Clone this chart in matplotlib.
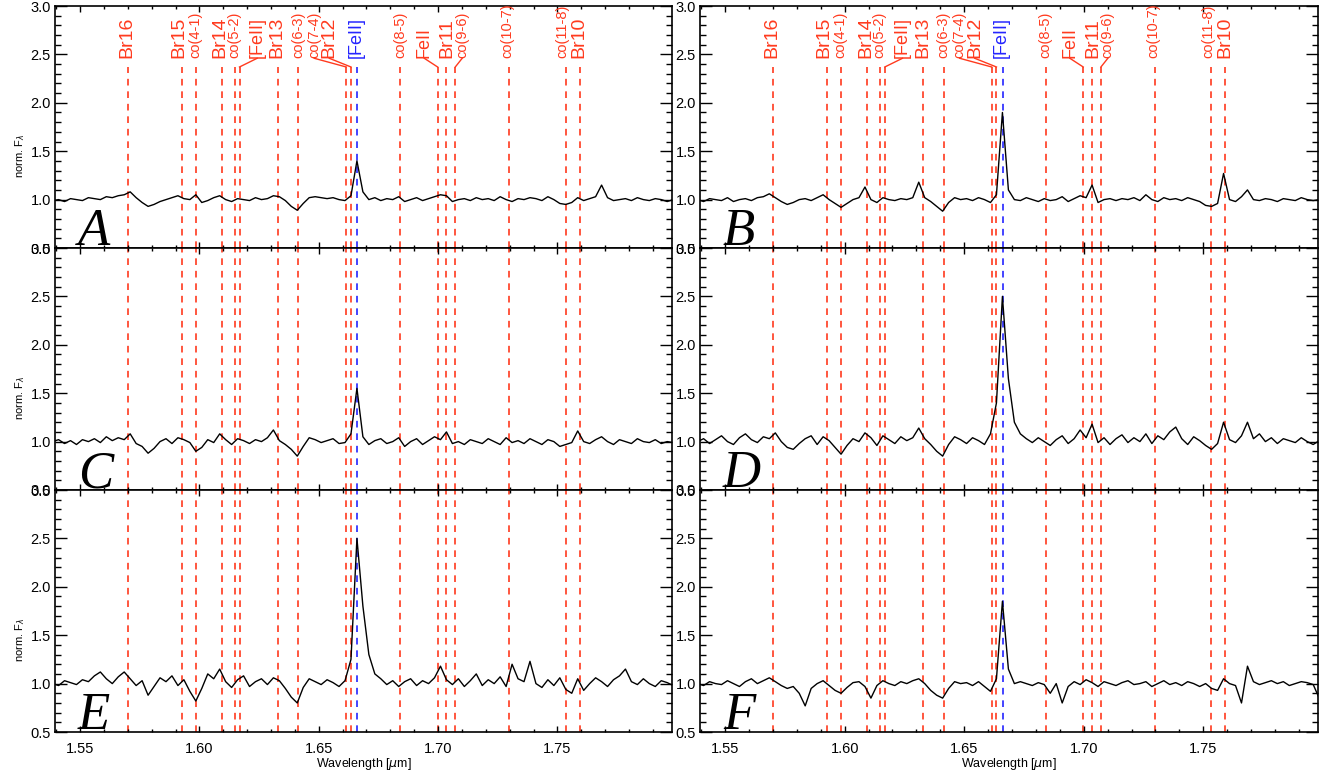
import numpy as np
import matplotlib
matplotlib.use("Agg")
from matplotlib import pyplot as plt
from matplotlib.ticker import MultipleLocator, FormatStrFormatter

plt.rcParams["font.family"] = ["Liberation Sans", "DejaVu Sans"]

# wavelength sampling of the spectra (micron)
wl_start = 1.5385
wl_step = 0.0025

spec_A = [
    0.99, 1.00, 0.98, 1.01, 1.00, 0.99, 1.02, 1.01, 1.00, 1.03,
    1.02, 1.04, 1.05, 1.08, 1.02, 0.97, 0.93, 0.95, 0.98, 1.00,
    1.02, 1.04, 1.01, 1.00, 1.05, 0.97, 0.99, 1.02, 1.04, 1.00,
    0.98, 1.01, 1.00, 0.99, 1.02, 1.00, 1.01, 1.04, 1.03, 0.99,
    0.93, 0.89, 0.96, 1.02, 1.03, 1.02, 1.01, 1.02, 1.00, 0.99,
    1.04, 1.40, 1.08, 1.00, 1.02, 0.99, 1.01, 1.00, 1.03, 0.98,
    1.00, 1.02, 0.99, 1.01, 1.03, 1.05, 1.04, 0.98, 1.00, 1.01,
    0.99, 1.02, 1.00, 1.01, 0.99, 1.03, 1.00, 0.98, 1.01, 1.00,
    1.02, 1.01, 0.99, 1.03, 1.00, 0.96, 0.95, 0.97, 1.02, 0.99,
    1.01, 1.03, 1.15, 1.02, 0.99, 1.00, 1.01, 0.99, 1.02, 1.00,
    0.99, 1.01, 1.00, 0.98, 1.00,
]
spec_B = [
    1.00, 0.98, 1.01, 1.00, 0.99, 1.02, 0.98, 1.00, 1.01, 0.99,
    1.02, 1.03, 1.06, 1.02, 0.98, 0.95, 0.97, 1.00, 1.01, 0.99,
    1.02, 1.05, 1.00, 0.96, 0.92, 0.96, 1.00, 1.02, 1.13, 1.00,
    0.97, 1.02, 1.00, 0.99, 1.01, 1.00, 1.02, 1.18, 1.02, 0.98,
    0.93, 0.88, 0.97, 1.02, 1.00, 1.01, 0.99, 1.02, 1.00, 0.97,
    1.05, 1.90, 1.10, 1.00, 0.99, 1.02, 1.00, 0.98, 1.01, 0.99,
    1.00, 1.03, 0.98, 1.01, 1.04, 1.02, 1.15, 0.97, 1.00, 1.01,
    0.99, 1.01, 1.00, 1.02, 0.99, 1.05, 1.00, 0.98, 1.02, 1.00,
    1.01, 0.99, 1.02, 1.00, 0.98, 0.94, 0.93, 0.96, 1.27, 1.00,
    0.98, 1.03, 1.10, 1.00, 0.99, 1.01, 1.00, 0.98, 1.01, 1.00,
    0.99, 1.02, 1.00, 0.99, 1.00,
]
spec_C = [
    1.00, 1.02, 0.98, 1.01, 0.97, 1.02, 1.00, 1.03, 0.99, 1.05,
    1.01, 1.04, 1.02, 1.08, 0.98, 0.95, 0.88, 0.93, 1.00, 1.03,
    0.98, 1.04, 1.02, 0.99, 0.90, 0.94, 1.02, 0.99, 1.08, 1.02,
    0.97, 1.03, 1.01, 0.98, 1.02, 1.00, 1.04, 1.12, 1.01, 0.97,
    0.92, 0.85, 0.95, 1.04, 1.02, 0.99, 1.01, 1.03, 0.98, 0.99,
    1.08, 1.55, 1.05, 0.97, 1.01, 1.03, 0.98, 1.00, 1.04, 0.95,
    1.00, 1.03, 0.97, 1.01, 1.05, 1.02, 1.10, 0.98, 1.00, 0.97,
    1.02, 1.00, 0.98, 1.03, 1.00, 0.97, 1.04, 0.99, 1.01, 0.98,
    1.03, 1.00, 0.97, 1.02, 1.00, 0.95, 0.97, 0.99, 1.11, 1.00,
    0.98, 1.02, 1.05, 1.00, 0.97, 1.02, 1.00, 0.98, 1.03, 1.00,
    0.99, 1.02, 0.98, 1.00, 0.99,
]
spec_D = [
    1.00, 1.03, 0.98, 1.02, 1.06, 1.00, 0.97, 1.04, 1.08, 1.02,
    0.99, 1.05, 1.03, 1.09, 1.00, 0.94, 0.92, 0.98, 1.03, 1.06,
    0.97, 1.05, 1.01, 0.94, 0.87, 0.96, 1.03, 1.00, 1.09, 1.04,
    0.96, 1.06, 1.02, 0.98, 1.05, 1.01, 1.04, 1.14, 1.03, 0.97,
    0.90, 0.85, 0.97, 1.05, 1.02, 0.98, 1.04, 1.01, 0.97, 1.08,
    1.40, 2.50, 1.65, 1.20, 1.08, 1.03, 0.99, 1.04, 1.00, 0.96,
    1.02, 1.06, 0.98, 1.03, 1.12, 1.04, 1.18, 0.99, 1.04, 0.97,
    1.03, 1.07, 0.99, 1.04, 1.00, 1.08, 0.98, 1.06, 1.02, 1.10,
    1.15, 1.03, 0.97, 1.05, 1.01, 0.96, 0.92, 0.98, 1.20, 1.02,
    0.99, 1.06, 1.20, 1.03, 1.08, 1.00, 1.04, 0.98, 1.03, 1.01,
    0.99, 1.04, 1.00, 0.97, 1.01,
]
spec_E = [
    1.00, 0.98, 1.03, 1.01, 0.99, 1.04, 1.02, 1.08, 1.12, 1.05,
    1.00, 1.07, 1.12, 1.05, 0.98, 1.03, 0.88, 0.97, 1.06, 1.02,
    1.08, 0.98, 1.04, 0.92, 0.82, 0.95, 1.10, 1.05, 1.15, 1.02,
    0.96, 1.04, 1.08, 0.97, 1.02, 1.05, 0.99, 1.06, 1.03, 0.95,
    0.86, 0.80, 0.96, 1.05, 1.02, 0.99, 1.04, 1.01, 0.97, 1.03,
    1.25, 2.50, 1.80, 1.30, 1.10, 1.05, 0.99, 1.03, 0.97, 1.02,
    1.05, 0.98, 1.03, 1.00, 1.06, 1.18, 1.04, 0.99, 1.05, 0.97,
    1.03, 1.10, 0.98, 1.04, 1.00, 1.07, 0.97, 1.20, 1.05, 1.02,
    1.23, 1.00, 0.96, 1.04, 0.98, 1.06, 0.94, 0.90, 1.05, 0.93,
    1.00, 1.06, 1.02, 0.97, 1.04, 1.08, 1.15, 1.02, 0.99, 1.05,
    1.00, 0.97, 1.03, 1.01, 0.98,
]
spec_F = [
    1.00, 0.98, 1.02, 1.00, 0.99, 1.03, 1.00, 0.97, 1.02, 1.05,
    1.00, 1.03, 1.06, 1.02, 0.98, 0.95, 0.97, 0.90, 0.77, 0.95,
    1.00, 1.03, 0.98, 0.93, 0.90, 0.96, 1.01, 1.02, 0.97, 0.85,
    0.98, 1.03, 1.00, 0.98, 1.02, 1.00, 1.03, 1.05, 1.00, 0.93,
    0.88, 0.85, 0.95, 1.02, 1.00, 1.01, 0.98, 1.02, 0.97, 0.92,
    1.05, 1.85, 1.15, 1.00, 1.02, 1.00, 0.98, 1.01, 0.99, 0.90,
    1.00, 0.80, 0.97, 1.02, 0.99, 1.04, 1.01, 0.97, 1.02, 1.00,
    0.98, 1.01, 1.03, 0.99, 1.00, 1.02, 0.97, 1.00, 1.03, 0.99,
    1.01, 0.98, 1.02, 1.00, 0.97, 1.00, 0.95, 0.93, 1.05, 1.00,
    0.98, 0.80, 1.18, 1.02, 0.99, 1.01, 1.03, 1.00, 1.02, 0.98,
    1.00, 1.02, 1.01, 0.99, 0.85,
]

panel_names = ["A", "B", "C", "D", "E", "F"]
spectra = [spec_A, spec_B, spec_C, spec_D, spec_E, spec_F]

# identified lines: label, line position, label position, font size
line_labels = ["Br16", "Br15", "co(4-1)", "Br14", "co(5-2)", "[FeII]", "Br13",
               "co(6-3)", "co(7-4)", "Br12", "co(8-5)", "FeII", "Br11",
               "co(9-6)", "co(10-7)", "co(11-8)", "Br10"]
line_wl = [1.5701, 1.5926, 1.5986, 1.6094, 1.6150, 1.6168, 1.6329,
           1.6415, 1.6615, 1.6635, 1.6841, 1.6998, 1.7034,
           1.7072, 1.7298, 1.7534, 1.7593]
label_wl = [1.5697, 1.5915, 1.5982, 1.6087, 1.6145, 1.6242, 1.6326,
            1.6414, 1.6481, 1.6544, 1.6841, 1.6942, 1.7038,
            1.7101, 1.7290, 1.7520, 1.7591]
label_size = [14, 14, 10.5, 14, 10.5, 13, 14, 10.5, 10.5, 14, 10.5, 13, 14,
              10.5, 10.5, 10.5, 14]

feii_label = "[FeII]"
feii_wl = 1.6661

RED = "#ff3a1e"
BLUE = "#2424ff"

fig = plt.figure(figsize=(13.25, 7.73), dpi=100)

W, H = 1325.0, 773.0
col_x = [55 / W, 700 / W]
col_w = [617 / W, 618 / W]
ph = 242 / H
row_bottom = [1 - 248 / H, 1 - 490 / H, 1 - 732 / H]

for i, (name, spec) in enumerate(zip(panel_names, spectra)):
    row, col = divmod(i, 2)
    ax = fig.add_axes([col_x[col], row_bottom[row], col_w[col], ph])
    wl = wl_start + wl_step * np.arange(len(spec))

    ytop = 2.37 if row == 0 else 3.0
    dash = (0, (4, 3.5))
    for x in line_wl:
        ax.plot([x, x], [0.5, ytop], color=RED, lw=1.2, ls=dash, zorder=1)
    ax.plot([feii_wl, feii_wl], [0.5, ytop], color=BLUE, lw=1.2, ls=dash, zorder=1)

    ax.plot(wl, spec, color="black", lw=1.0, zorder=3)

    if row == 0:
        for lab, x, lx, fs in zip(line_labels, line_wl, label_wl, label_size):
            ax.text(lx, 2.46, lab, rotation=90, ha="center", va="bottom",
                    fontsize=fs, color=RED)
            if abs(lx - x) > 0.002:
                ax.plot([lx, x], [2.46, 2.37], color=RED, lw=1.0)
        ax.text(feii_wl - 0.0004, 2.46, feii_label, rotation=90, ha="center",
                va="bottom", fontsize=13, color=BLUE)

    ax.text(0.037, 0.012, name, transform=ax.transAxes, fontsize=38,
            family="Liberation Serif", style="italic", ha="left", va="baseline")

    ax.set_xlim(1.5395, 1.798)
    ax.set_ylim(0.5, 3.0)
    ax.xaxis.set_major_locator(MultipleLocator(0.05))
    ax.xaxis.set_minor_locator(MultipleLocator(0.01))
    ax.yaxis.set_major_locator(MultipleLocator(0.5))
    ax.yaxis.set_minor_locator(MultipleLocator(0.1))
    ax.tick_params(axis="both", which="both", direction="in",
                   top=True, right=True, labelsize=10.5, width=1.0)
    ax.tick_params(axis="x", which="major", length=4.5, pad=7)
    ax.tick_params(axis="x", which="minor", length=2.5)
    ax.tick_params(axis="y", which="major", length=8.5, pad=3)
    ax.tick_params(axis="y", which="minor", length=4.3)
    ax.yaxis.set_major_formatter(FormatStrFormatter("%.1f"))
    for sp in ax.spines.values():
        sp.set_linewidth(1.2)

    if row < 2:
        ax.set_xticklabels([])
    else:
        ax.set_xlabel(r"Wavelength [$\mu$m]", fontsize=9, labelpad=0)
    if col == 0:
        ax.set_ylabel(r"norm. F$_\lambda$", fontsize=8)
        ax.yaxis.set_label_coords(-0.045, 0.38)

fig.savefig("out.png", dpi=100)
